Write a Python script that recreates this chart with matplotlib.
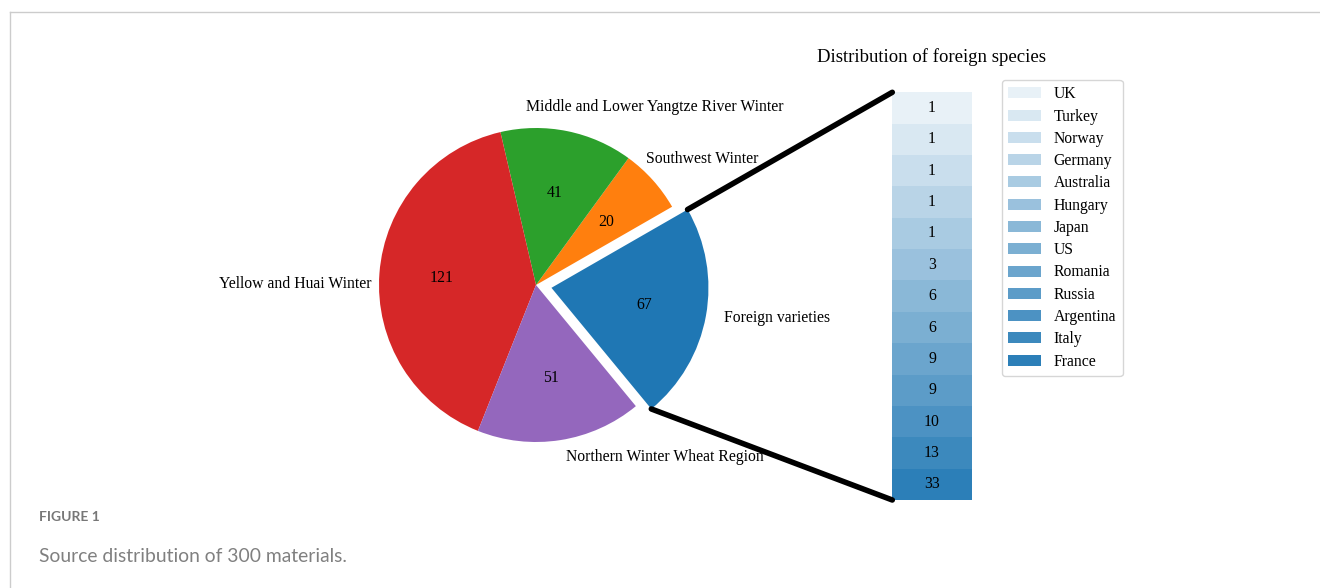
import matplotlib
matplotlib.use("Agg")
import matplotlib.pyplot as plt
from matplotlib.patches import ConnectionPatch
from matplotlib.lines import Line2D
import numpy as np

plt.rcParams["font.family"] = ["Liberation Serif", "DejaVu Serif"]

# source regions (pie), counter-clockwise from the exploded wedge
region_labels = ["Foreign varieties", "Southwest Winter", "Middle and Lower Yangtze River Winter",
                 "Yellow and Huai Winter", "Northern Winter Wheat Region"]
region_counts = [67, 20, 41, 121, 51]
region_colors = ["tab:blue", "tab:orange", "tab:green", "tab:red", "tab:purple"]

# foreign origins, top of the bar to bottom
foreign_names = ["UK", "Turkey", "Norway", "Germany", "Australia", "Hungary", "Japan",
                 "US", "Romania", "Russia", "Argentina", "Italy", "France"]
foreign_counts = [1, 1, 1, 1, 1, 3, 6, 6, 9, 9, 10, 13, 33]

W, H = 1320, 588
fig = plt.figure(figsize=(W / 100, H / 100), dpi=100)


def px_rect(x0, y0, x1, y1):
    return [x0 / W, 1 - y1 / H, (x1 - x0) / W, (y1 - y0) / H]


ax_pie = fig.add_axes(px_rect(536 - 196.25, 285 - 196.25, 536 + 196.25, 285 + 196.25))
ax_bar = fig.add_axes(px_rect(892.3, 92.3, 971.7, 500))

total = sum(region_counts)
explode = [0.1, 0, 0, 0, 0]
wedges, _, autotexts = ax_pie.pie(region_counts, colors=region_colors, startangle=-50.5,
                                  explode=explode, pctdistance=0.6,
                                  autopct=lambda p: f"{p * total / 100:.0f}",
                                  textprops=dict(fontsize=11.3))

# region names placed by hand around the pie
label_pos = [(1.197, -0.21, "left"), (0.70, 0.80, "left"), (-0.064, 1.134, "left"),
             (-1.045, 0.006, "right"), (0.19, -1.096, "left")]
for name, (x, y, ha) in zip(region_labels, label_pos):
    ax_pie.text(x, y, name, ha=ha, va="center", fontsize=11.3)

# stacked bar of foreign origins, equal-height cells
n = len(foreign_names)
for j, (name, count) in enumerate(zip(foreign_names, foreign_counts)):
    bc = ax_bar.bar(0, 1, width=1, bottom=n - 1 - j, color="C0", alpha=0.1 + 0.07 * j, label=name)
    ax_bar.bar_label(bc, labels=[str(count)], label_type="center", fontsize=11.3)
ax_bar.set_xlim(-0.5, 0.5)
ax_bar.set_ylim(0, n)
ax_bar.axis("off")

ax_bar.legend(loc="upper left", bbox_to_anchor=(1002 / W, 1 - 80 / H), bbox_transform=fig.transFigure,
              borderaxespad=0, fontsize=11.3, labelspacing=0.40, handlelength=2.1)

fig.text(931.5 / W, 1 - 57 / H, "Distribution of foreign species", ha="center", va="center", fontsize=13.5)

# connecting lines from the foreign wedge to the bar
w = wedges[0]
cx, cy = w.center
r = w.r
for theta, ybar in [(w.theta2, n), (w.theta1, 0)]:
    x = r * np.cos(np.deg2rad(theta)) + cx
    y = r * np.sin(np.deg2rad(theta)) + cy
    con = ConnectionPatch(xyA=(-0.5, ybar), coordsA=ax_bar.transData,
                          xyB=(x, y), coordsB=ax_pie.transData)
    con.set_color("black")
    con.set_linewidth(4)
    con.set_capstyle("round")
    fig.add_artist(con)

# page frame and caption
fig.add_artist(Line2D([9.5 / W, 1], [1 - 12.3 / H, 1 - 12.3 / H], color="#cccccc", lw=1))
fig.add_artist(Line2D([9.5 / W, 9.5 / W], [0, 1 - 12.3 / H], color="#cccccc", lw=1))
fig.text(39 / W, 1 - 517 / H, "FIGURE 1", fontsize=10, fontweight="bold", color="#777777",
         family="Lato", va="center")
fig.text(39 / W, 1 - 556 / H, "Source distribution of 300 materials.", fontsize=13.9, color="#808080",
         family="Lato", va="center")

fig.savefig("out.png", dpi=100)
